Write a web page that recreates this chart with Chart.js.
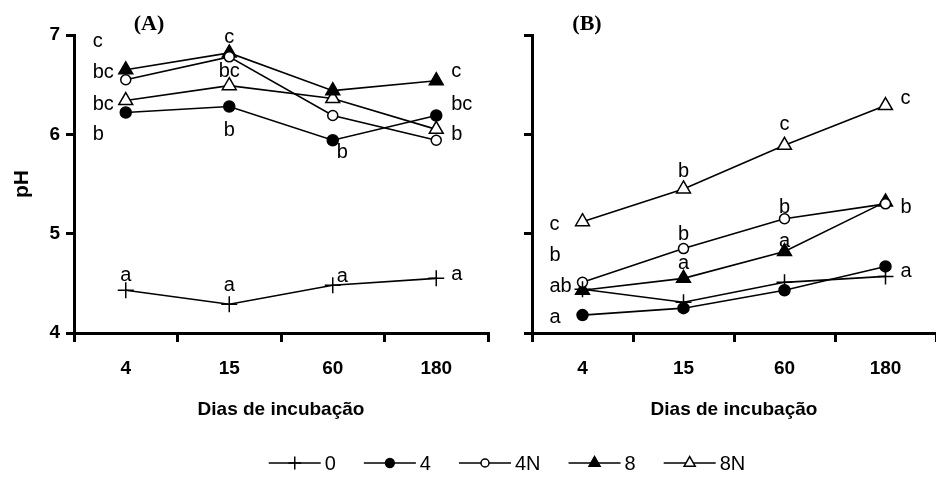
<!DOCTYPE html>
<html>
<head>
<title>pH x Dias de incubação</title>
<style>
  html, body { margin: 0; padding: 0; background: #fff; }
  #wrap { position: relative; width: 936px; height: 477px; overflow: hidden; }
  #wrap canvas { position: absolute; left: 0; top: 0; }
</style>
<script src="https://cdn.jsdelivr.net/npm/chart.js@4"></script>
</head>
<body>
<div id="wrap">
  <canvas id="chartA" width="936" height="477"></canvas>
  <canvas id="chartB" width="936" height="477"></canvas>
</div>
<script>
// incubation days (x categories)
const days = ['4', '15', '60', '180'];
const seriesNames = ['0', '4', '4N', '8', '8N'];

// panel (A)
const phA_0  = [4.43, 4.29, 4.48, 4.55];
const phA_4  = [6.22, 6.28, 5.94, 6.19];
const phA_4N = [6.55, 6.78, 6.19, 5.94];
const phA_8  = [6.65, 6.82, 6.44, 6.54];
const phA_8N = [6.34, 6.49, 6.36, 6.05];

// panel (B)
const phB_0  = [4.44, 4.31, 4.51, 4.57];
const phB_4  = [4.18, 4.25, 4.43, 4.67];
const phB_4N = [4.51, 4.85, 5.15, 5.30];
const phB_8  = [4.43, 4.55, 4.82, 5.32];
const phB_8N = [5.12, 5.45, 5.89, 6.29];

// significance letters: [day index, pH level, text, placement]
const lettersA = [
  [0, 6.93, 'c', 'W'], [0, 6.62, 'bc', 'W'], [0, 6.30, 'bc', 'W'], [0, 6.00, 'b', 'W'], [0, 4.58, 'a', 'N'],
  [1, 6.98, 'c', 'N'], [1, 6.63, 'bc', 'N'], [1, 6.04, 'b', 'N'], [1, 4.48, 'a', 'N'],
  [2, 5.82, 'b', 'SE'], [2, 4.57, 'a', 'SE'],
  [3, 6.63, 'c', 'E'], [3, 6.30, 'bc', 'E'], [3, 6.00, 'b', 'E'], [3, 4.59, 'a', 'E']
];
const lettersB = [
  [0, 5.09, 'c', 'W'], [0, 4.78, 'b', 'W'], [0, 4.47, 'ab', 'W'], [0, 4.16, 'a', 'W'],
  [1, 5.63, 'b', 'N'], [1, 4.99, 'b', 'N'], [1, 4.70, 'a', 'N'],
  [2, 6.10, 'c', 'N'], [2, 5.26, 'b', 'N'], [2, 4.92, 'a', 'N'],
  [3, 6.36, 'c', 'E'], [3, 5.26, 'b', 'E'], [3, 4.62, 'a', 'E']
];

const sans = '"Liberation Sans", Arial, sans-serif';

function makeSets(v0, v4, v4N, v8, v8N) {
  const marks = [
    { pointStyle: 'cross', pointRadius: 8, pointBackgroundColor: '#fff' },
    { pointStyle: 'circle', pointRadius: 5.5, pointBackgroundColor: '#000' },
    { pointStyle: 'circle', pointRadius: 5, pointBackgroundColor: '#fff' },
    { pointStyle: 'triangle', pointRadius: 8, pointBackgroundColor: '#000' },
    { pointStyle: 'triangle', pointRadius: 8, pointBackgroundColor: '#fff' }
  ];
  return [v0, v4, v4N, v8, v8N].map((d, i) => Object.assign({
    label: seriesNames[i],
    data: d,
    borderColor: '#000',
    borderWidth: 1.6,
    pointBorderColor: '#000',
    pointBorderWidth: 1.5,
    tension: 0,
    fill: false
  }, marks[i]));
}

const letterPlugin = {
  id: 'letters',
  afterDatasetsDraw(chart, args, opts) {
    const { ctx, chartArea } = chart;
    const x = chart.scales.x, y = chart.scales.y;
    ctx.save();
    ctx.fillStyle = '#000';
    ctx.font = '20px ' + sans;
    ctx.textBaseline = 'middle';
    opts.items.forEach(([cat, val, text, pos]) => {
      const px = x.getPixelForValue(cat);
      const py = y.getPixelForValue(val);
      if (pos === 'W') { ctx.textAlign = 'left'; ctx.fillText(text, px - 33, py); }
      else if (pos === 'E') { ctx.textAlign = 'left'; ctx.fillText(text, px + 15, py); }
      else if (pos === 'SE') { ctx.textAlign = 'left'; ctx.fillText(text, px + 4, py); }
      else { ctx.textAlign = 'center'; ctx.fillText(text, px, py); }
    });
    ctx.font = 'bold 22px "Liberation Serif", "Times New Roman", serif';
    ctx.textAlign = 'center';
    ctx.fillText(opts.tag, chartArea.left + opts.tagX, chartArea.top - 11);
    ctx.restore();
  }
};

const legendPlugin = {
  id: 'lineLegend',
  afterDraw(chart, args, opts) {
    if (!opts.show) return;
    const ctx = chart.ctx;
    ctx.save();
    ctx.font = '20px ' + sans;
    const lineLen = 52, gap = 4, space = 28;
    const items = chart.data.datasets.map(ds => ({ ds, w: ctx.measureText(ds.label).width }));
    const total = items.reduce((s, it) => s + lineLen + gap + it.w, 0) + space * (items.length - 1);
    let lx = opts.centerX - total / 2;
    const ly = opts.y;
    items.forEach(({ ds, w }) => {
      ctx.strokeStyle = '#000';
      ctx.lineWidth = 1.6;
      ctx.beginPath();
      ctx.moveTo(lx, ly);
      ctx.lineTo(lx + lineLen, ly);
      ctx.stroke();
      ctx.fillStyle = ds.pointBackgroundColor;
      ctx.lineWidth = ds.pointBorderWidth;
      Chart.helpers.drawPoint(ctx, {
        pointStyle: ds.pointStyle,
        radius: ds.pointRadius * 0.8,
        rotation: 0,
        borderWidth: ds.pointBorderWidth
      }, lx + lineLen / 2, ly);
      ctx.fillStyle = '#000';
      ctx.textAlign = 'left';
      ctx.textBaseline = 'middle';
      ctx.fillText(ds.label, lx + lineLen + gap, ly + 1);
      lx += lineLen + gap + w + space;
    });
    ctx.restore();
  }
};

function scalesFor(withLabels) {
  return {
    x: {
      type: 'category',
      offset: true,
      grid: { offset: true, drawOnChartArea: false, tickLength: 9, color: '#000', lineWidth: 3 },
      border: { display: true, color: '#000', width: 3 },
      ticks: { color: '#000', font: { family: sans, size: 19, weight: 'bold' }, padding: 15, maxRotation: 0 },
      title: {
        display: true, text: 'Dias de incubação', color: '#000',
        font: { family: sans, size: 19, weight: 'bold' }, padding: { top: 4, bottom: 2 }
      },
      afterFit: s => { s.height = 90; s.paddingLeft = 0; s.paddingRight = 0; }
    },
    y: {
      min: 4,
      max: 7,
      grid: { drawOnChartArea: false, tickLength: 8, color: '#000', lineWidth: 3 },
      border: { display: true, color: '#000', width: 3 },
      ticks: {
        display: withLabels, stepSize: 1, color: '#000', padding: 6,
        font: { family: sans, size: 19, weight: 'bold' }
      },
      title: {
        display: withLabels, text: 'pH', color: '#000',
        font: { family: sans, size: 21, weight: 'bold' }, padding: { top: 10, bottom: 4 }
      },
      afterFit: s => { s.width = withLabels ? 74 : 10; }
    }
  };
}

function makeChart(id, sets, letters, tag, tagX, pad, showLegend) {
  return new Chart(document.getElementById(id), {
    type: 'line',
    data: { labels: days, datasets: sets },
    plugins: [letterPlugin, legendPlugin],
    options: {
      responsive: false,
      animation: false,
      devicePixelRatio: 1,
      layout: { padding: pad, autoPadding: false },
      scales: scalesFor(id === 'chartA'),
      plugins: {
        legend: { display: false },
        tooltip: { enabled: false },
        letters: { items: letters, tag: tag, tagX: tagX },
        lineLegend: { show: showLegend, centerX: 507, y: 463 }
      }
    }
  });
}

makeChart('chartA', makeSets(phA_0, phA_4, phA_4N, phA_8, phA_8N), lettersA, '(A)', 75,
  { left: 0, right: 448, top: 35, bottom: 54 }, false);
makeChart('chartB', makeSets(phB_0, phB_4, phB_4N, phB_8, phB_8N), lettersB, '(B)', 55,
  { left: 522, right: -4, top: 35, bottom: 54 }, true);
</script>
</body>
</html>
